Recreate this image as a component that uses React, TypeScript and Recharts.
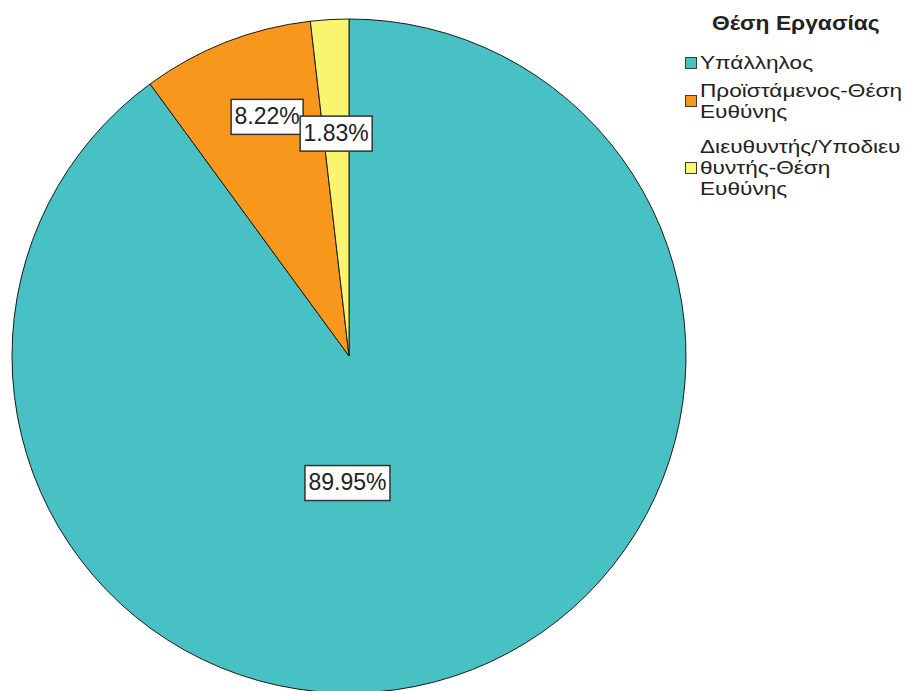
import React from 'react';
import { PieChart, Pie, Cell, Legend } from 'recharts';

const CATEGORIES = [
  'Υπάλληλος',
  'Προϊστάμενος-Θέση\nΕυθύνης',
  'Διευθυντής/Υποδιευ\nθυντής-Θέση\nΕυθύνης',
];
const PERCENTS = [89.95, 8.22, 1.83];
const COLORS = ['#48C1C5', '#F7981D', '#FAF56F'];
const LEGEND_TITLE = 'Θέση Εργασίας';

const FONT = '"Liberation Sans", Arial, sans-serif';

// where each box label sits: polar angle (deg) and fraction of the radius
const LABEL_SPOTS = [
  { angle: -90.7, r: 0.377 },
  { angle: 108.9, r: 0.75 },
  { angle: 93.3, r: 0.661 },
];

const data = CATEGORIES.map((name, i) => ({ name, value: PERCENTS[i] }));

const renderLabel = (props: any) => {
  const { cx, cy, outerRadius, index, value } = props;
  const spot = LABEL_SPOTS[index];
  const rad = (spot.angle * Math.PI) / 180;
  const x = cx + Math.cos(rad) * outerRadius * spot.r;
  const y = cy - Math.sin(rad) * outerRadius * spot.r;
  const text = `${value.toFixed(2)}%`;
  const w = text.length * 13 + 7;
  const h = 35;
  return (
    <g>
      <rect x={x - w / 2} y={y - h / 2} width={w} height={h} fill="#fff" stroke="#333" strokeWidth={1.5} />
      <text
        x={x}
        y={y + 1}
        textAnchor="middle"
        dominantBaseline="middle"
        fontFamily={FONT}
        fontSize={23}
        fill="#222"
      >
        {text}
      </text>
    </g>
  );
};

const renderLegend = (props: any) => {
  const payload = [...(props.payload || [])].sort(
    (a: any, b: any) => CATEGORIES.indexOf(a.value) - CATEGORIES.indexOf(b.value)
  );
  return (
    <div style={{ fontFamily: FONT, color: '#222', width: 221 }}>
      <div
        style={{
          fontWeight: 'bold',
          fontSize: 20,
          lineHeight: '21px',
          marginTop: 13,
          marginBottom: 18,
          marginLeft: 27,
          transform: 'scaleX(1.14)',
          transformOrigin: 'left',
          whiteSpace: 'nowrap',
        }}
      >
        {LEGEND_TITLE}
      </div>
      {payload.map((entry: any, i: number) => (
        <div
          key={i}
          style={{ display: 'flex', alignItems: 'center', marginBottom: i === 0 ? 7 : 14 }}
        >
          <div
            style={{
              width: 10,
              height: 10,
              background: entry.color,
              border: '1px solid #3a3a3a',
              marginRight: 3,
              flexShrink: 0,
            }}
          />
          <div
            style={{
              fontSize: 19,
              lineHeight: '21px',
              whiteSpace: 'pre',
              transform: 'scaleX(1.19)',
              transformOrigin: 'left',
            }}
          >
            {entry.value}
          </div>
        </div>
      ))}
    </div>
  );
};

export default function App() {
  return (
    <div style={{ position: 'absolute', left: 0, top: 0, width: 906, height: 691, background: '#fff' }}>
      <PieChart width={906} height={691} margin={{ top: 0, right: 0, bottom: 0, left: 0 }}>
        <Pie
          data={data}
          dataKey="value"
          nameKey="name"
          cx={349}
          cy={356}
          outerRadius={337}
          startAngle={90}
          endAngle={-270}
          stroke="#1a1a1a"
          strokeWidth={1}
          label={renderLabel}
          labelLine={false}
          isAnimationActive={false}
        >
          {data.map((d, i) => (
            <Cell key={d.name} fill={COLORS[i]} />
          ))}
        </Pie>
        <Legend
          layout="vertical"
          align="right"
          verticalAlign="top"
          content={renderLegend}
          wrapperStyle={{ position: 'absolute', left: 685, top: 0, width: 221 }}
        />
      </PieChart>
    </div>
  );
}
